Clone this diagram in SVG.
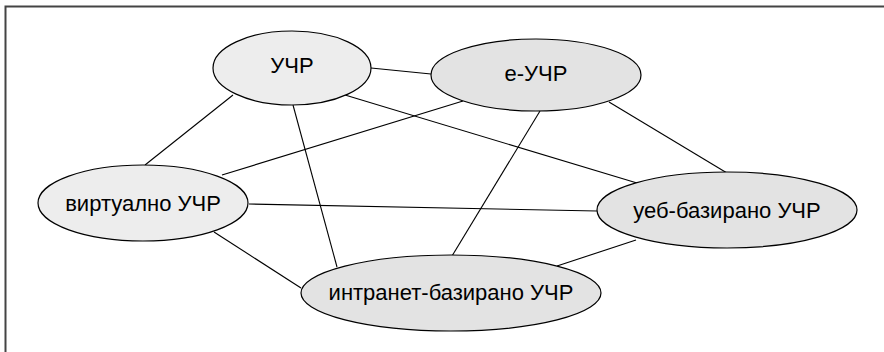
<svg xmlns="http://www.w3.org/2000/svg" width="884" height="352" viewBox="0 0 884 352">
<style>
.n{stroke:#000;stroke-width:1.2}
.a{fill:#ededed}
.b{fill:#e3e3e3}
.t{font-family:"Liberation Sans",Arial,sans-serif;font-size:22px;text-anchor:middle;fill:#000}
.c line{stroke:#000;stroke-width:1.1}
</style>
<rect width="884" height="352" fill="#fff"/>
<path d="M5.5 352V6.5H884" fill="none" stroke="#444" stroke-width="2"/>
<g class="c" id="connectors">
<line x1="371" y1="68" x2="431" y2="74"/>
<line x1="233" y1="95" x2="145" y2="165"/>
<line x1="293" y1="105" x2="337" y2="267"/>
<line x1="345" y1="95" x2="637" y2="183"/>
<line x1="463" y1="101" x2="222" y2="175"/>
<line x1="540" y1="111" x2="452" y2="256"/>
<line x1="609" y1="102" x2="727" y2="173"/>
<line x1="249" y1="204" x2="597" y2="211"/>
<line x1="214" y1="232" x2="301" y2="288"/>
<line x1="636" y1="240" x2="557" y2="266"/>
</g>
<g id="n1"><ellipse class="n a" cx="292" cy="68" rx="79" ry="37"/><text class="t" x="292" y="73">УЧР</text></g>
<g id="n2"><ellipse class="n b" cx="536" cy="75" rx="105" ry="36"/><text class="t" x="536" y="81">е-УЧР</text></g>
<g id="n3"><ellipse class="n a" cx="143" cy="203" rx="105" ry="38"/><text class="t" x="143" y="211">виртуално УЧР</text></g>
<g id="n4"><ellipse class="n b" cx="727" cy="210" rx="130" ry="38"/><text class="t" x="727" y="218">уеб-базирано УЧР</text></g>
<g id="n5"><ellipse class="n b" cx="451" cy="293" rx="150" ry="38"/><text class="t" x="451" y="300">интранет-базирано УЧР</text></g>
</svg>
